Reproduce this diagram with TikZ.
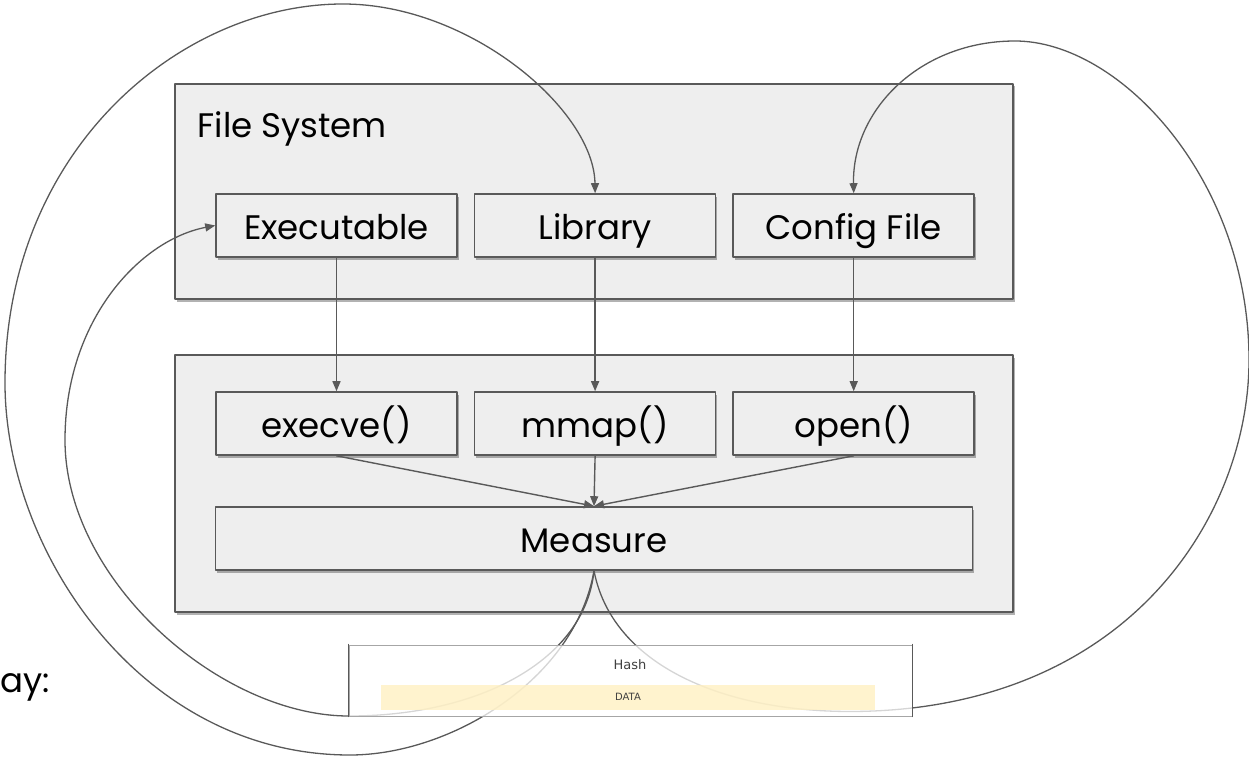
\documentclass[tikz,border=0pt]{standalone}
\usepackage{fontspec}
\setmainfont{Poppins}
\newfontfamily\hashfont{DejaVu Sans}
\usepackage{xcolor}
\usetikzlibrary{arrows.meta,shadows,positioning}

\definecolor{boxgray}{HTML}{EEEEEE}
\definecolor{linegray}{HTML}{595959}
\definecolor{datayellow}{HTML}{FFF0C2}

\begin{document}
\begin{tikzpicture}[x=1pt,y=-1pt,line cap=round,line join=round,
  >={Triangle[length=10pt,width=8pt]},
  shade/.style={drop shadow={shadow xshift=1.5pt,shadow yshift=-2.5pt,opacity=.3,fill=black}},
  group/.style={draw=linegray,line width=1.6pt,fill=boxgray,inner sep=0pt,minimum width=838pt,shade},
  box/.style={draw=linegray,line width=1.6pt,fill=boxgray,inner sep=0pt,minimum width=241pt,minimum height=63pt,
    text height=30pt,text depth=2pt,font=\fontsize{34}{36}\selectfont,shade},
  flow/.style={->,draw=linegray,line width=1.4pt},
  loop/.style={->,draw=linegray,line width=1.3pt},
  node distance=16pt]
\useasboundingbox (0,0) rectangle (1249,757);

% the two groups
\node[group,minimum height=215pt] (fs) at (594,191.5) {};
\node[anchor=base west,font=\fontsize{34}{36}\selectfont] (fslabel) at (194,138) {File System};
\node[group,minimum height=257pt] (kernel) at (594,483.5) {};

% files
\node[box] (exe) at (336.5,225.5) {Executable};
\node[box,right=of exe] (lib) {Library};
\node[box,right=of lib] (cfg) {Config File};

% calls
\node[box] (execve) at (336.5,423.5) {execve()};
\node[box,right=of execve] (mmap) {mmap()};
\node[box,right=of mmap] (open) {open()};
\node[box,minimum width=757pt] (measure) at (594,538.5) {Measure};

\draw[flow] (exe) -- (execve);
\draw[flow] (lib) -- (mmap);
\draw[flow] (cfg) -- (open);
\draw[flow] (execve.south) -- (measure.north);
\draw[flow] (mmap.south) -- (measure.north);
\draw[flow] (open.south) -- (measure.north);

% feedback loops
\draw[loop] (measure.south) .. controls (575,680) and (450,755) .. (350,755)
  .. controls (140,755) and (5,550) .. (5,383)
  .. controls (5,150) and (180,4) .. (343,4)
  .. controls (470,4) and (594,110) .. (lib.north);
\draw[loop] (measure.south) .. controls (585,660) and (480,716) .. (349,716)
  .. controls (220,716) and (65,580) .. (65,440)
  .. controls (65,320) and (140,240) .. (exe.west);
\draw[loop] (measure.south) .. controls (615,680) and (760,725) .. (912,708)
  .. controls (1150,680) and (1249,500) .. (1249,360)
  .. controls (1249,180) and (1120,41) .. (1015,41)
  .. controls (920,41) and (852,110) .. (cfg.north);

% hash record, lies over the loops
\node[draw=gray!70,line width=.8pt,fill=white,fill opacity=.75,inner sep=0pt,
  minimum width=563pt,minimum height=71pt] (hash) at (630.5,680.5) {};
\draw[linegray,line width=1.6pt] (hash.north west) -- (hash.south west);
\draw[linegray,line width=1.6pt] (hash.north east) -- (hash.south east);
\node[font=\hashfont\fontsize{13}{15}\selectfont,text=black!75] (hashlabel) at (630,665) {Hash};
\node[fill=datayellow,fill opacity=.8,text opacity=1,inner sep=0pt,minimum width=494pt,minimum height=25pt,
  font=\hashfont\fontsize{10}{12}\selectfont,text=black!75] (data) at (628,697) {DATA};

\node[anchor=base west,inner sep=0pt,font=\fontsize{34}{36}\selectfont] (side) at (0,692) {ay:};
\end{tikzpicture}
\end{document}
